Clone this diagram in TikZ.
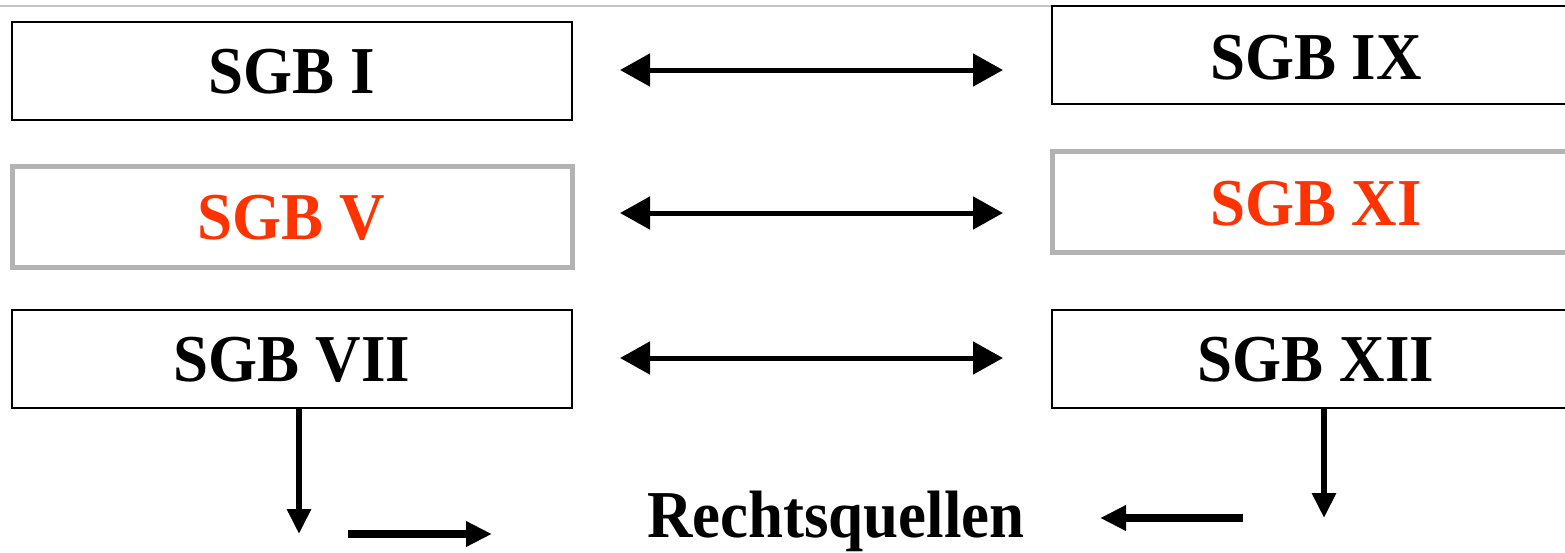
\documentclass[tikz,border=0pt]{standalone}
\usepackage{fontspec}
\setmainfont{Liberation Serif}[FakeStretch=0.94]
\usetikzlibrary{arrows.meta}
\definecolor{sgbred}{HTML}{FF3300}
\definecolor{boxgray}{HTML}{B3B3B3}
\definecolor{linegray}{HTML}{C4C4C4}
\tikzset{
  x=1pt, y=-1pt,
  lbl/.style={font=\fontsize{67}{80}\selectfont\bfseries, inner sep=0pt},
  blackbox/.style={draw=black, line width=1.6pt, fill=white},
  graybox/.style={draw=boxgray, line width=5pt, fill=white},
  dbl/.style={line width=5pt, {Triangle[length=30pt,width=32pt]}-{Triangle[length=30pt,width=32pt]}},
  vdown/.style={line width=6pt, -{Triangle[length=25pt,width=23pt]}},
  hbold/.style={line width=8pt, -{Triangle[length=26pt,width=24pt]}},
}
\begin{document}
\begin{tikzpicture}
\useasboundingbox (0,0) rectangle (1565,552);
\clip (0,0) rectangle (1565,552);
% top gray rule
\coordinate (rl) at (0,6);
\coordinate (rr) at (1565,6);
\draw[linegray, line width=2pt] (rl) -- (rr);
% boxes
\draw[blackbox] (12,22) rectangle (572,120);
\node[lbl] (i) at (292,72) {SGB I};
\draw[graybox] (12,166) rectangle (572,267);
\node[lbl, text=sgbred] (v) at (291,218) {SGB V};
\draw[blackbox] (12,310) rectangle (572,408);
\node[lbl] (vii) at (292,360) {SGB VII};
\draw[blackbox] (1052,6) rectangle (1590,104);
\node[lbl] (ix) at (1316,58) {SGB IX};
\draw[graybox] (1052,151) rectangle (1590,252);
\node[lbl, text=sgbred] (xi) at (1316,204) {SGB XI};
\draw[blackbox] (1052,310) rectangle (1590,408);
\node[lbl] (xii) at (1316,360) {SGB XII};
% bottom label
\node[lbl, anchor=base] (rq) at (836,537) {Rechtsquellen};
% double arrows
\coordinate (a1l) at (620,70);  \coordinate (a1r) at (1003,70);
\coordinate (a2l) at (620,213); \coordinate (a2r) at (1003,213);
\coordinate (a3l) at (620,358); \coordinate (a3r) at (1003,358);
\draw[dbl] (a1l) -- (a1r);
\draw[dbl] (a2l) -- (a2r);
\draw[dbl] (a3l) -- (a3r);
% vertical arrows
\coordinate (vl0) at (299,408); \coordinate (vl1) at (299,534);
\coordinate (vr0) at (1324,408); \coordinate (vr1) at (1324,518);
\draw[vdown] (vl0) -- (vl1);
\draw[vdown] (vr0) -- (vr1);
% horizontal arrows toward label
\coordinate (hl0) at (348,534); \coordinate (hl1) at (492,534);
\coordinate (hr0) at (1243,518); \coordinate (hr1) at (1100,518);
\draw[hbold] (hl0) -- (hl1);
\draw[hbold] (hr0) -- (hr1);
\end{tikzpicture}
\end{document}
